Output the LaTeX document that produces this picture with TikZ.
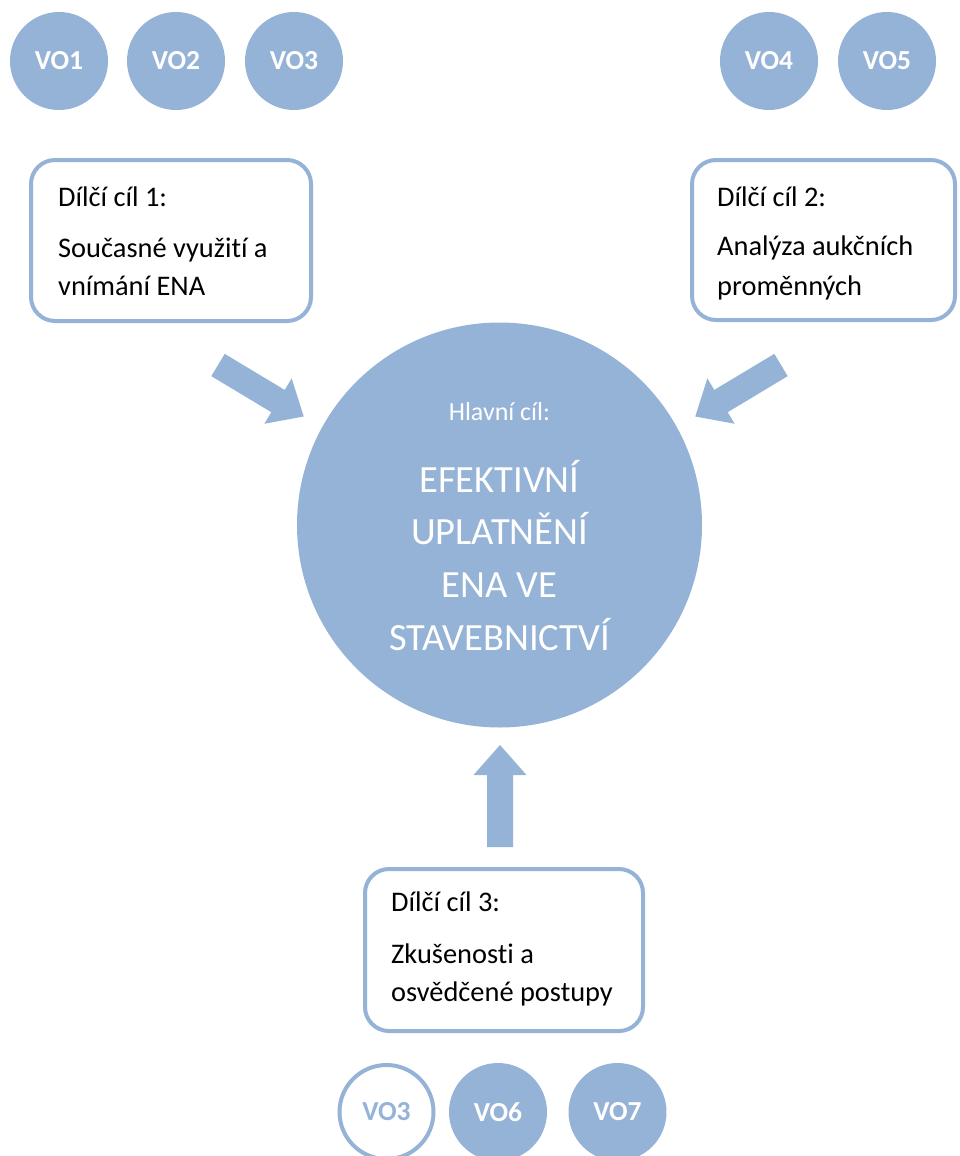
\documentclass[tikz,border=0pt]{standalone}
\usepackage{fontspec}
\setmainfont{Carlito}[Ligatures=NoCommon]
\usetikzlibrary{calc}
\definecolor{acc}{HTML}{95B3D7}
\begin{document}
\begin{tikzpicture}[x=1pt,y=-1pt,
  vo/.style={circle,fill=acc,minimum size=98pt,inner sep=0pt,text=white,font=\bfseries\fontsize{27.5}{30}\selectfont},
  vohollow/.style={circle,draw=acc,line width=4pt,fill=white,minimum size=94pt,inner sep=0pt,text=acc,font=\bfseries\fontsize{27.5}{30}\selectfont},
  goalbox/.style={rectangle,rounded corners=24pt,draw=acc,line width=4pt,fill=white,inner sep=0pt},
  boxtext/.style={anchor=base west,inner sep=0pt,font=\fontsize{28.4}{37}\selectfont,text=black},
  maincircle/.style={circle,fill=acc,minimum size=405pt,inner sep=0pt},
  maintext/.style={anchor=base,inner sep=0pt,text=white,font=\fontsize{38.5}{44}\selectfont},
  subtext/.style={anchor=base,inner sep=0pt,text=white,font=\fontsize{26}{30}\selectfont},
  pics/fatarrow/.style={code={\fill[acc] (0,-13) -- ({#1-30},-13) -- ({#1-30},-26.5) -- (#1,0) -- ({#1-30},26.5) -- ({#1-30},13) -- (0,13) -- cycle;}}
]
\useasboundingbox (0,0) rectangle (959,1156);

% top circles
\node[vo] (vo1) at (59,61) {VO1};
\node[vo] (vo2) at (176,61) {VO2};
\node[vo] (vo3) at (294,61) {VO3};
\node[vo] (vo4) at (769,61) {VO4};
\node[vo] (vo5) at (887,61) {VO5};

% goal boxes
\node[goalbox,minimum width=280pt,minimum height=161pt] (b1) at (171,240.5) {};
\node[goalbox,minimum width=263pt,minimum height=160pt] (b2) at (823.5,240) {};
\node[goalbox,minimum width=278pt,minimum height=162pt] (b3) at (504,950) {};

\node[boxtext] (b1a) at ($(b1.north west)+(29,48)$) {Dílčí cíl 1:};
\node[boxtext] (b1b) at ($(b1.north west)+(29,99)$) {Současné využití a};
\node[boxtext] (b1c) at ($(b1.north west)+(29,137)$) {vnímání ENA};

\node[boxtext] (b2a) at ($(b2.north west)+(27,48)$) {Dílčí cíl 2:};
\node[boxtext] (b2b) at ($(b2.north west)+(27,97)$) {Analýza aukčních};
\node[boxtext] (b2c) at ($(b2.north west)+(27,137)$) {proměnných};

\node[boxtext] (b3a) at ($(b3.north west)+(28,44)$) {Dílčí cíl 3:};
\node[boxtext] (b3b) at ($(b3.north west)+(28,96)$) {Zkušenosti a};
\node[boxtext] (b3c) at ($(b3.north west)+(28,134)$) {osvědčené postupy};

% main circle
\node[maincircle] (main) at (499.5,525) {};
\node[subtext] (hl) at ($(main.center)+(0,-105)$) {Hlavní cíl:};
\node[maintext] (m1) at ($(main.center)+(0,-33)$) {EFEKTIVNÍ};
\node[maintext] (m2) at ($(main.center)+(0,19)$) {UPLATNĚNÍ};
\node[maintext] (m3) at ($(main.center)+(0,72)$) {ENA VE};
\node[maintext] (m4) at ($(main.center)+(0,125)$) {STAVEBNICTVÍ};

% block arrows
\pic[rotate=-31] at (218,365) {fatarrow=100};
\pic[rotate=-149] at (781,365) {fatarrow=100};
\pic[rotate=90] at (500,847) {fatarrow=102};

% bottom circles
\node[vohollow] (vo3b) at (386.5,1112) {VO3};
\node[vo] (vo6) at (498,1112) {VO6};
\node[vo] (vo7) at (617.5,1112) {VO7};
\end{tikzpicture}
\end{document}
